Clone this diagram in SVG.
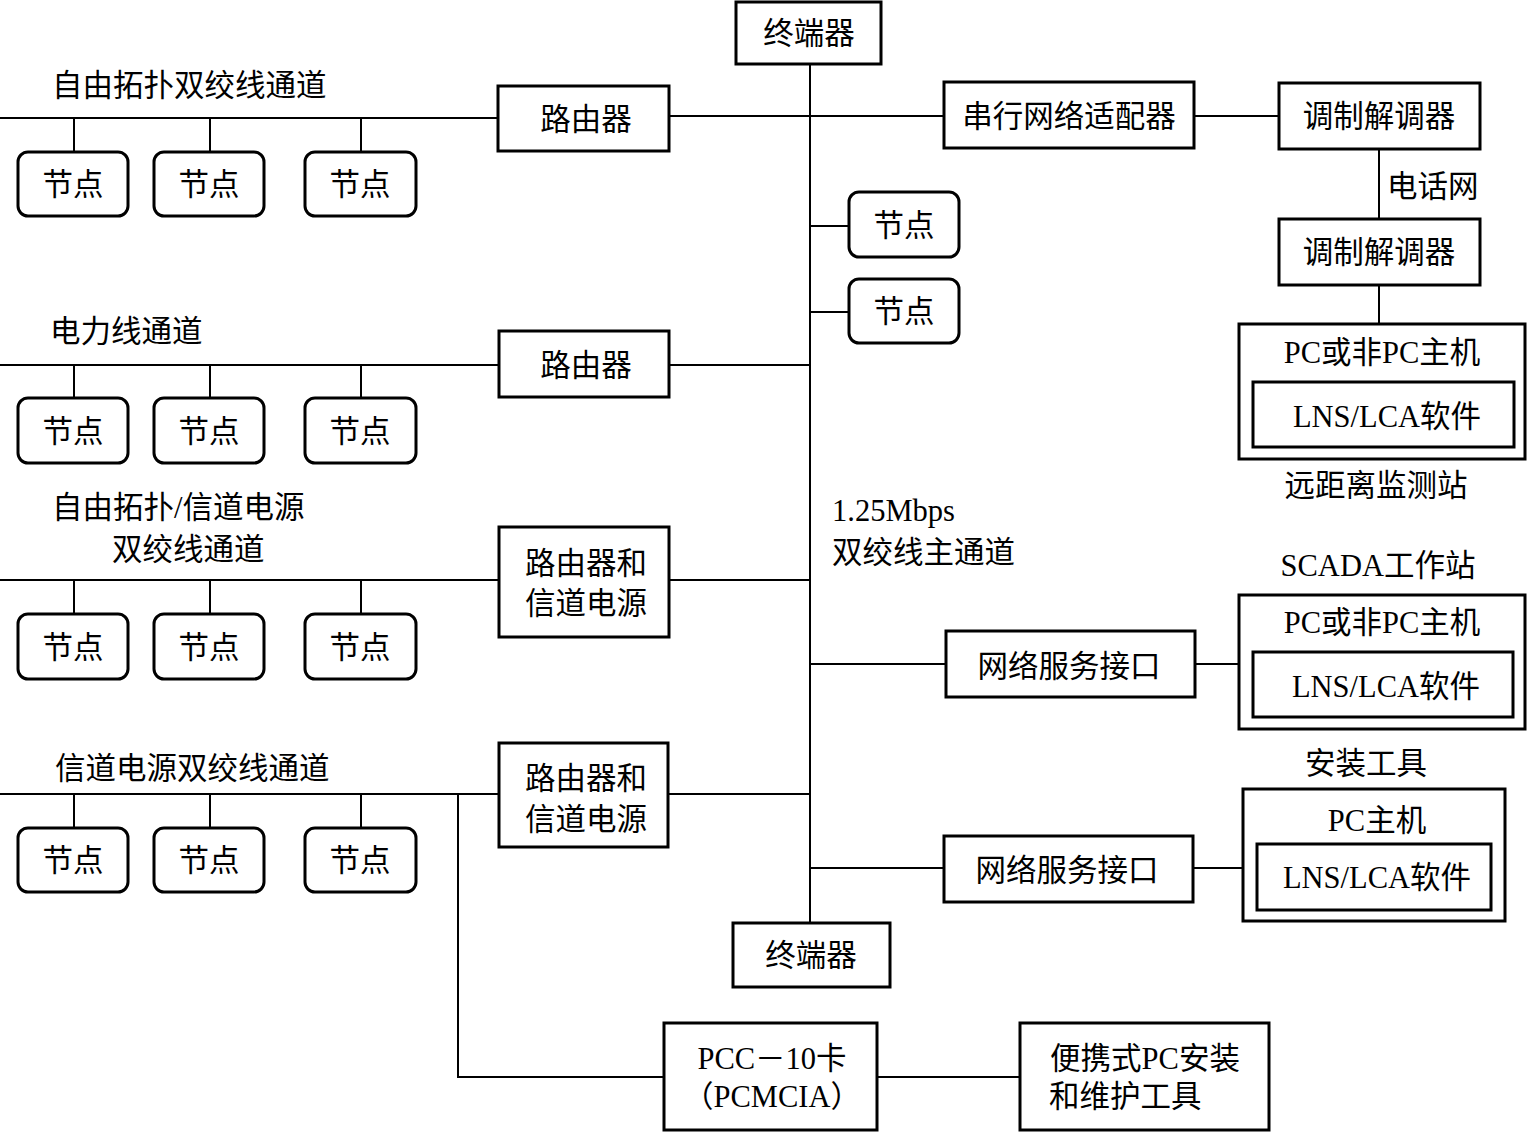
<svg xmlns="http://www.w3.org/2000/svg" width="1527" height="1132" viewBox="0 0 1527 1132">
<style>
.b{fill:#fff;stroke:#000;stroke-width:3}
.l{stroke:#000;stroke-width:2;fill:none}
text{font-family:"Liberation Serif","Noto Sans CJK SC",serif;font-size:30.5px;fill:#000}
.m{text-anchor:middle}
</style>
<rect width="1527" height="1132" fill="#fff"/>
<g id="connectors">
<line class="l" x1="810" y1="64" x2="810" y2="923"/>
<line class="l" x1="0" y1="118" x2="498" y2="118"/>
<line class="l" x1="669" y1="116" x2="944" y2="116"/>
<line class="l" x1="74" y1="118" x2="74" y2="152"/>
<line class="l" x1="210" y1="118" x2="210" y2="152"/>
<line class="l" x1="361" y1="118" x2="361" y2="152"/>
<line class="l" x1="1194" y1="116" x2="1279" y2="116"/>
<line class="l" x1="1379" y1="149" x2="1379" y2="219"/>
<line class="l" x1="1379" y1="285" x2="1379" y2="323"/>
<line class="l" x1="810" y1="226" x2="849" y2="226"/>
<line class="l" x1="810" y1="312" x2="849" y2="312"/>
<line class="l" x1="0" y1="365" x2="499" y2="365"/>
<line class="l" x1="669" y1="365" x2="810" y2="365"/>
<line class="l" x1="74" y1="365" x2="74" y2="398"/>
<line class="l" x1="210" y1="365" x2="210" y2="398"/>
<line class="l" x1="361" y1="365" x2="361" y2="398"/>
<line class="l" x1="0" y1="580" x2="499" y2="580"/>
<line class="l" x1="669" y1="580" x2="810" y2="580"/>
<line class="l" x1="74" y1="580" x2="74" y2="614"/>
<line class="l" x1="210" y1="580" x2="210" y2="614"/>
<line class="l" x1="361" y1="580" x2="361" y2="614"/>
<line class="l" x1="810" y1="664" x2="946" y2="664"/>
<line class="l" x1="1195" y1="664" x2="1239" y2="664"/>
<line class="l" x1="0" y1="794" x2="499" y2="794"/>
<line class="l" x1="668" y1="794" x2="810" y2="794"/>
<line class="l" x1="74" y1="794" x2="74" y2="828"/>
<line class="l" x1="210" y1="794" x2="210" y2="828"/>
<line class="l" x1="361" y1="794" x2="361" y2="828"/>
<polyline class="l" points="458,794 458,1077 664,1077"/>
<line class="l" x1="810" y1="868" x2="944" y2="868"/>
<line class="l" x1="1193" y1="868" x2="1243" y2="868"/>
<line class="l" x1="877" y1="1077" x2="1020" y2="1077"/>
</g>
<g id="labels">
<text x="52" y="96">自由拓扑双绞线通道</text>
<text x="50" y="342">电力线通道</text>
<text x="52" y="518">自由拓扑/信道电源</text>
<text x="112" y="560">双绞线通道</text>
<text x="55" y="779">信道电源双绞线通道</text>
<text x="832" y="521">1.25Mbps</text>
<text x="832" y="563">双绞线主通道</text>
<text x="1387" y="197">电话网</text>
<text class="m" x="1376" y="496">远距离监测站</text>
<text class="m" x="1378" y="576">SCADA工作站</text>
<text class="m" x="1366" y="774">安装工具</text>
</g>
<g id="term-top"><rect class="b" x="736" y="2" width="145" height="62"/><text class="m" x="809" y="44">终端器</text></g>
<g id="term-bottom"><rect class="b" x="733" y="923" width="157" height="64"/><text class="m" x="811" y="966">终端器</text></g>
<g id="router1"><rect class="b" x="498" y="86" width="171" height="65"/><text class="m" x="586" y="130">路由器</text></g>
<g id="router2"><rect class="b" x="499" y="331" width="170" height="66"/><text class="m" x="586" y="376">路由器</text></g>
<g id="router3"><rect class="b" x="499" y="527" width="170" height="110"/><text class="m" x="586" y="574">路由器和</text><text class="m" x="586" y="614">信道电源</text></g>
<g id="router4"><rect class="b" x="499" y="743" width="169" height="104"/><text class="m" x="586" y="789">路由器和</text><text class="m" x="586" y="830">信道电源</text></g>
<g id="n1a"><rect class="b" x="18" y="152" width="110" height="64" rx="10"/><text class="m" x="73" y="195">节点</text></g>
<g id="n1b"><rect class="b" x="154" y="152" width="110" height="64" rx="10"/><text class="m" x="209" y="195">节点</text></g>
<g id="n1c"><rect class="b" x="305" y="152" width="111" height="64" rx="10"/><text class="m" x="360" y="195">节点</text></g>
<g id="n2a"><rect class="b" x="18" y="398" width="110" height="65" rx="10"/><text class="m" x="73" y="442">节点</text></g>
<g id="n2b"><rect class="b" x="154" y="398" width="110" height="65" rx="10"/><text class="m" x="209" y="442">节点</text></g>
<g id="n2c"><rect class="b" x="305" y="398" width="111" height="65" rx="10"/><text class="m" x="360" y="442">节点</text></g>
<g id="n3a"><rect class="b" x="18" y="614" width="110" height="65" rx="10"/><text class="m" x="73" y="658">节点</text></g>
<g id="n3b"><rect class="b" x="154" y="614" width="110" height="65" rx="10"/><text class="m" x="209" y="658">节点</text></g>
<g id="n3c"><rect class="b" x="305" y="614" width="111" height="65" rx="10"/><text class="m" x="360" y="658">节点</text></g>
<g id="n4a"><rect class="b" x="18" y="828" width="110" height="64" rx="10"/><text class="m" x="73" y="871">节点</text></g>
<g id="n4b"><rect class="b" x="154" y="828" width="110" height="64" rx="10"/><text class="m" x="209" y="871">节点</text></g>
<g id="n4c"><rect class="b" x="305" y="828" width="111" height="64" rx="10"/><text class="m" x="360" y="871">节点</text></g>
<g id="bus-node1"><rect class="b" x="849" y="192" width="110" height="65" rx="10"/><text class="m" x="904" y="236">节点</text></g>
<g id="bus-node2"><rect class="b" x="849" y="279" width="110" height="64" rx="10"/><text class="m" x="904" y="322">节点</text></g>
<g id="adapter"><rect class="b" x="944" y="82" width="250" height="66"/><text class="m" x="1069" y="127">串行网络适配器</text></g>
<g id="modem1"><rect class="b" x="1279" y="83" width="201" height="66"/><text class="m" x="1379" y="127">调制解调器</text></g>
<g id="modem2"><rect class="b" x="1279" y="219" width="201" height="66"/><text class="m" x="1379" y="263">调制解调器</text></g>
<g id="remote-host"><rect class="b" x="1239" y="324" width="286" height="135"/><text class="m" x="1382" y="363">PC或非PC主机</text><rect class="b" x="1253" y="382" width="261" height="65"/><text class="m" x="1387" y="427">LNS/LCA软件</text></g>
<g id="nsi1"><rect class="b" x="946" y="631" width="249" height="66"/><text class="m" x="1069" y="677">网络服务接口</text></g>
<g id="scada-host"><rect class="b" x="1239" y="595" width="286" height="134"/><text class="m" x="1382" y="633">PC或非PC主机</text><rect class="b" x="1253" y="652" width="260" height="65"/><text class="m" x="1386" y="697">LNS/LCA软件</text></g>
<g id="nsi2"><rect class="b" x="944" y="836" width="249" height="66"/><text class="m" x="1067" y="881">网络服务接口</text></g>
<g id="install-host"><rect class="b" x="1243" y="789" width="262" height="132"/><text class="m" x="1377" y="831">PC主机</text><rect class="b" x="1257" y="844" width="234" height="66"/><text class="m" x="1377" y="888">LNS/LCA软件</text></g>
<g id="pcc"><rect class="b" x="664" y="1023" width="213" height="107"/><text class="m" x="772" y="1069">PCC－10卡</text><text class="m" x="772" y="1107">（PCMCIA）</text></g>
<g id="portable"><rect class="b" x="1020" y="1023" width="249" height="107"/><text class="m" x="1145" y="1069">便携式PC安装</text><text x="1049" y="1107">和维护工具</text></g>
</svg>
